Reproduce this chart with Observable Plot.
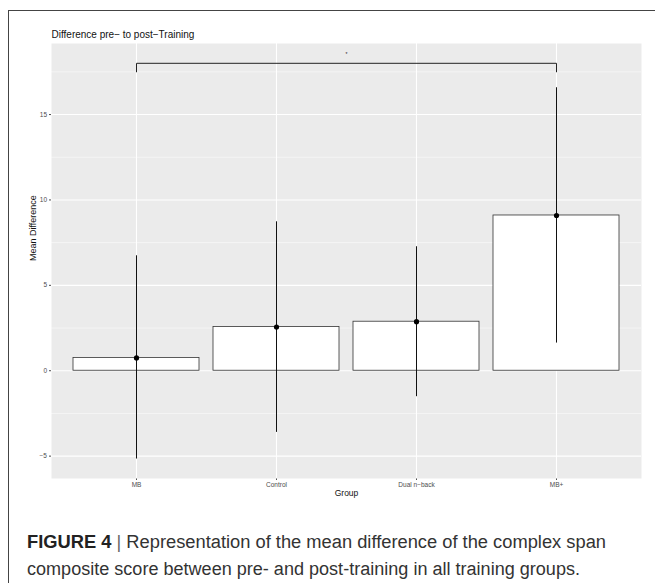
<!DOCTYPE html>
<html>
<head>
<meta charset="utf-8">
<script src="https://cdn.jsdelivr.net/npm/d3@7"></script>
<script src="https://cdn.jsdelivr.net/npm/@observablehq/plot@0.6"></script>
<style>
  html, body { margin: 0; padding: 0; background: #fff; }
  #page { position: relative; width: 655px; height: 583px; overflow: hidden; font-family: "Liberation Sans", Arial, sans-serif; }
  #border { position: absolute; left: 8px; top: 10px; width: 700px; height: 700px; border-left: 1.5px solid #444; border-top: 1.5px solid #444; }
  #chart { position: absolute; left: 0; top: 0; }
  .cap { position: absolute; left: 27px; font-size: 18px; line-height: 26px; white-space: nowrap; color: #333; transform-origin: 0 50%; }
  .cap b { color: #222; font-weight: bold; }
  .cap .bar { color: #666; font-weight: 300; }
</style>
</head>
<body>
<div id="page">
  <div id="border"></div>
  <div id="chart"></div>
  <div class="cap" id="cap1" style="top:529px"><b>FIGURE 4</b> <span class="bar">|</span> Representation of the mean difference of the complex span</div>
  <div class="cap" id="cap2" style="top:556px">composite score between pre- and post-training in all training groups.</div>
</div>
<script>
const groups = ["MB", "Control", "Dual n\u2212back", "MB+"];
const means = [0.75, 2.56, 2.87, 9.09];
const lower = [-5.17, -3.61, -1.52, 1.62];
const upper = [6.73, 8.72, 7.26, 16.57];
const yMajor = [-5, 0, 5, 10, 15];
const yMinor = [-2.5, 2.5, 7.5, 12.5, 17.5];
const titleText = "Difference pre\u2212 to post\u2212Training";
const xLabel = "Group";
const yLabel = "Mean Difference";
const sigPair = ["MB", "MB+"];
const sigY = 18;
const sigTickY = 17.5;
const sigLabel = "*";
const sigLabelY = 18.5;

const data = groups.map((g, i) => ({group: g, mean: means[i], lo: lower[i], hi: upper[i]}));
const bracket = [
  {x: sigPair[0], y: sigTickY},
  {x: sigPair[0], y: sigY},
  {x: sigPair[1], y: sigY},
  {x: sigPair[1], y: sigTickY}
];

const plot = Plot.plot({
  width: 655,
  height: 500,
  marginLeft: 51,
  marginRight: 14,
  marginTop: 43,
  marginBottom: 22,
  style: {fontFamily: "Liberation Sans, Arial, sans-serif", fontSize: "6.5px", color: "#4d4d4d", background: "transparent"},
  x: {domain: groups, paddingInner: 0.1, paddingOuter: 0.15, label: null, tickSize: 2, tickPadding: 2},
  y: {domain: [-6.31, 19.16], ticks: yMajor, label: null, tickSize: 2, tickPadding: 2.5},
  marks: [
    Plot.frame({fill: "#ebebeb", stroke: "none"}),
    Plot.ruleY(yMinor, {stroke: "white", strokeWidth: 0.5}),
    Plot.ruleY(yMajor, {stroke: "white", strokeWidth: 1.1}),
    Plot.ruleX(groups, {x: d => d, stroke: "white", strokeWidth: 1.1}),
    Plot.barY(data, {x: "group", y: "mean", fill: "white", stroke: "#333", strokeWidth: 0.8}),
    Plot.ruleX(data, {x: "group", y1: "lo", y2: "hi", stroke: "#111", strokeWidth: 1}),
    Plot.dot(data, {x: "group", y: "mean", r: 2.6, fill: "black", stroke: "none"}),
    Plot.line(bracket, {x: "x", y: "y", stroke: "#222", strokeWidth: 1, curve: "linear"}),
    Plot.text([{y: sigLabelY, t: sigLabel}], {y: "y", text: "t", fontSize: 5, fill: "#222"}),
    Plot.text([titleText], {frameAnchor: "top-left", textAnchor: "start", lineAnchor: "bottom", dy: -6, fontSize: 10, fill: "#111"}),
    Plot.text([xLabel], {frameAnchor: "bottom", lineAnchor: "middle", dy: 15, fontSize: 8.5, fill: "#111"}),
    Plot.text([yLabel], {frameAnchor: "left", rotate: -90, dx: -18, fontSize: 9, fill: "#111"})
  ]
});
document.getElementById("chart").appendChild(plot);

function fit(id, target) {
  const el = document.getElementById(id);
  const w = el.getBoundingClientRect().width;
  el.style.transform = `scaleX(${target / w})`;
}
fit("cap1", 579);
fit("cap2", 553);
</script>
</body>
</html>
